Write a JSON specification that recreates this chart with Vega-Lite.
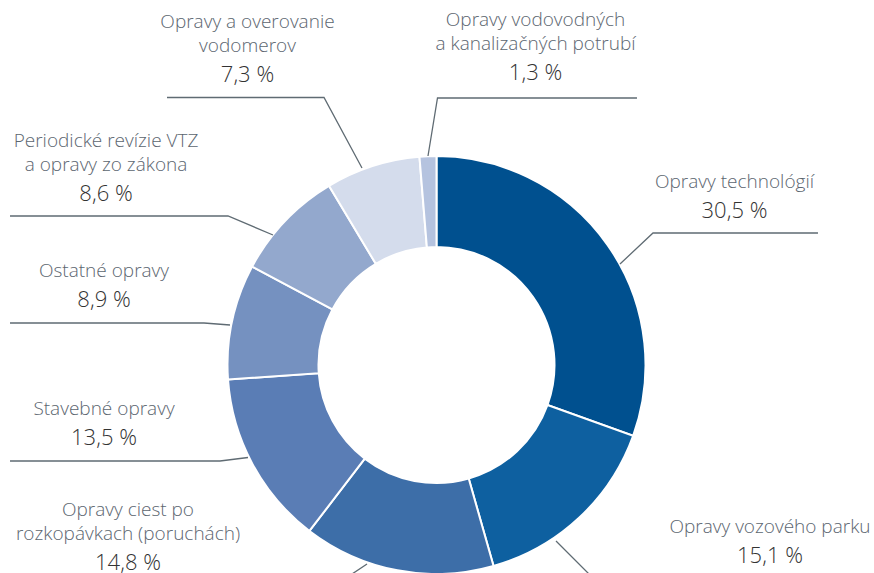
{
  "$schema": "https://vega.github.io/schema/vega-lite/v6.json",
  "width": 874,
  "height": 573,
  "autosize": "none",
  "padding": 0,
  "background": "white",
  "config": {"view": {"stroke": null}},
  "datasets": {
    "slices": [
      {"cat": "Opravy technológií", "share": 30.5, "ord": 1, "top": "", "name": "Opravy technológií", "pct": "30,5 %", "lx": 143.27, "ly": 70.67},
      {"cat": "Opravy vozového parku", "share": 15.1, "ord": 2, "top": "", "name": "Opravy vozového parku", "pct": "15,1 %", "lx": 160.34, "ly": -95.19},
      {"cat": "Opravy ciest po rozkopávkach (poruchách)", "share": 14.8, "ord": 3, "top": "Opravy ciest po", "name": "rozkopávkach (poruchách)", "pct": "14,8 %", "lx": -148.32, "ly": -98.56},
      {"cat": "Stavebné opravy", "share": 13.5, "ord": 4, "top": "", "name": "Stavebné opravy", "pct": "13,5 %", "lx": -159.86, "ly": -38.46},
      {"cat": "Ostatné opravy", "share": 8.9, "ord": 5, "top": "", "name": "Ostatné opravy", "pct": "8,9 %", "lx": -159.86, "ly": 27.88},
      {"cat": "Periodické revízie VTZ a opravy zo zákona", "share": 8.6, "ord": 6, "top": "Periodické revízie VTZ", "name": "a opravy zo zákona", "pct": "8,6 %", "lx": -158.89, "ly": 78.85},
      {"cat": "Opravy a overovanie vodomerov", "share": 7.3, "ord": 7, "top": "Opravy a overovanie", "name": "vodomerov", "pct": "7,3 %", "lx": -90.87, "ly": 136.2},
      {"cat": "Opravy vodovodných a kanalizačných potrubí", "share": 1.3, "ord": 8, "top": "Opravy vodovodných", "name": "a kanalizačných potrubí", "pct": "1,3 %", "lx": 47.6, "ly": 137.02}
    ],
    "leaders": [
      {"cat": "Opravy technológií", "seq": 1, "px": 88.22, "py": 48.56},
      {"cat": "Opravy technológií", "seq": 2, "px": 104.09, "py": 63.46},
      {"cat": "Opravy technológií", "seq": 3, "px": 183.41, "py": 63.46},
      {"cat": "Opravy vozového parku", "seq": 1, "px": 57.45, "py": -84.62},
      {"cat": "Opravy vozového parku", "seq": 2, "px": 76.2, "py": -103.37},
      {"cat": "Opravy vozového parku", "seq": 3, "px": 208.41, "py": -103.37},
      {"cat": "Opravy ciest po rozkopávkach (poruchách)", "seq": 1, "px": -33.41, "py": -95.67},
      {"cat": "Opravy ciest po rozkopávkach (poruchách)", "seq": 2, "px": -46.39, "py": -104.33},
      {"cat": "Opravy ciest po rozkopávkach (poruchách)", "seq": 3, "px": -94.47, "py": -104.33},
      {"cat": "Stavebné opravy", "seq": 1, "px": -90.63, "py": -44.47},
      {"cat": "Stavebné opravy", "seq": 2, "px": -104.09, "py": -46.15},
      {"cat": "Stavebné opravy", "seq": 3, "px": -205.05, "py": -46.15},
      {"cat": "Ostatné opravy", "seq": 1, "px": -99.28, "py": 19.23},
      {"cat": "Ostatné opravy", "seq": 2, "px": -111.78, "py": 20.19},
      {"cat": "Ostatné opravy", "seq": 3, "px": -205.05, "py": 20.19},
      {"cat": "Periodické revízie VTZ a opravy zo zákona", "seq": 1, "px": -78.61, "py": 62.5},
      {"cat": "Periodické revízie VTZ a opravy zo zákona", "seq": 2, "px": -100.24, "py": 71.63},
      {"cat": "Periodické revízie VTZ a opravy zo zákona", "seq": 3, "px": -205.05, "py": 71.63},
      {"cat": "Opravy a overovanie vodomerov", "seq": 1, "px": -35.82, "py": 94.71},
      {"cat": "Opravy a overovanie vodomerov", "seq": 2, "px": -54.09, "py": 128.61},
      {"cat": "Opravy a overovanie vodomerov", "seq": 3, "px": -129.57, "py": 128.61},
      {"cat": "Opravy vodovodných a kanalizačných potrubí", "seq": 1, "px": -4.09, "py": 100.48},
      {"cat": "Opravy vodovodných a kanalizačných potrubí", "seq": 2, "px": 0.48, "py": 128.37},
      {"cat": "Opravy vodovodných a kanalizačných potrubí", "seq": 3, "px": 96.39, "py": 128.37}
    ]
  },
  "layer": [
    {
      "data": {"name": "slices"},
      "mark": {"type": "arc", "innerRadius": 118, "outerRadius": 209, "stroke": "white", "strokeWidth": 2},
      "encoding": {
        "x": {"datum": 0, "type": "quantitative", "scale": {"domain": [-209.86, 210.34], "nice": false, "zero": false}, "axis": null},
        "y": {"datum": 0, "type": "quantitative", "scale": {"domain": [-100, 175.48], "nice": false, "zero": false}, "axis": null},
        "theta": {"field": "share", "type": "quantitative", "stack": true},
        "order": {"field": "ord", "type": "quantitative"},
        "color": {
          "field": "cat",
          "type": "nominal",
          "legend": null,
          "scale": {
            "domain": ["Opravy technológií", "Opravy vozového parku", "Opravy ciest po rozkopávkach (poruchách)", "Stavebné opravy", "Ostatné opravy", "Periodické revízie VTZ a opravy zo zákona", "Opravy a overovanie vodomerov", "Opravy vodovodných a kanalizačných potrubí"],
            "range": ["#00508f", "#0e60a0", "#3d6ea8", "#5a7db5", "#7591c0", "#93a8cd", "#d4dcec", "#b5c3df"]
          }
        }
      }
    },
    {
      "data": {"name": "leaders"},
      "mark": {"type": "line", "color": "#5f6b73", "strokeWidth": 1.3, "clip": true},
      "encoding": {
        "x": {"field": "px", "type": "quantitative", "axis": null},
        "y": {"field": "py", "type": "quantitative", "axis": null},
        "detail": {"field": "cat"},
        "order": {"field": "seq", "type": "quantitative"}
      }
    },
    {
      "data": {"name": "slices"},
      "mark": {"type": "text", "align": "center", "baseline": "alphabetic", "dy": -54, "font": "Open Sans", "fontWeight": 300, "fontSize": 19, "color": "#5c6670"},
      "encoding": {
        "x": {"field": "lx", "type": "quantitative", "axis": null},
        "y": {"field": "ly", "type": "quantitative", "axis": null},
        "text": {"field": "top"}
      }
    },
    {
      "data": {"name": "slices"},
      "mark": {"type": "text", "align": "center", "baseline": "alphabetic", "dy": -30, "font": "Open Sans", "fontWeight": 300, "fontSize": 19, "color": "#5c6670"},
      "encoding": {
        "x": {"field": "lx", "type": "quantitative", "axis": null},
        "y": {"field": "ly", "type": "quantitative", "axis": null},
        "text": {"field": "name"}
      }
    },
    {
      "data": {"name": "slices"},
      "mark": {"type": "text", "align": "center", "baseline": "alphabetic", "font": "Open Sans", "fontWeight": 300, "fontSize": 22, "color": "#333333"},
      "encoding": {
        "x": {"field": "lx", "type": "quantitative", "axis": null},
        "y": {"field": "ly", "type": "quantitative", "axis": null},
        "text": {"field": "pct"}
      }
    }
  ]
}
